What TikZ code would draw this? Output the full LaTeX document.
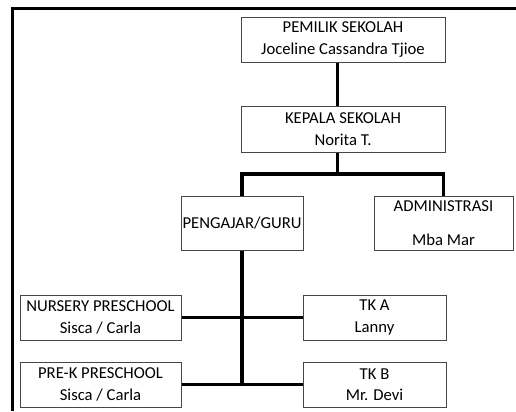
\documentclass[tikz,border=0pt]{standalone}
\usepackage{fontspec}
\setmainfont{Carlito}
\usetikzlibrary{positioning}
\definecolor{BoxGray}{RGB}{70,70,70}
\tikzset{
  orgbox/.style={draw=BoxGray,line width=0.75pt,fill=white,inner sep=0pt,
    align=center,font=\fontsize{12.5}{16}\selectfont},
  link/.style={line width=2.3pt,black},
  frameline/.style={line width=2.6pt,black}
}

\begin{document}
\begin{tikzpicture}[x=0.75pt,y=-0.75pt]
      \useasboundingbox (0,0) rectangle (516,411);
      % outer frame (left and top only)
      \draw[frameline] (12.5,411) -- (12.5,8.5) -- (516,8.5);
      % top of the chart
      \node[orgbox,minimum width=204*0.75pt,minimum height=45*0.75pt] (pemilik) at (343,39.5) {PEMILIK SEKOLAH\\Joceline Cassandra Tjioe};
      \node[orgbox,minimum width=204*0.75pt,minimum height=46*0.75pt] (kepala) at (343,129) {KEPALA SEKOLAH\\Norita T.};
      % second level
      \node[orgbox,minimum width=122*0.75pt,minimum height=54*0.75pt] (pengajar) at (242,223) {PENGAJAR/GURU};
      \node[orgbox,minimum width=139*0.75pt,minimum height=54*0.75pt] (admin) at (443.5,223) {ADMINISTRASI\\[9pt]Mba Mar};
      % classes
      \node[orgbox,minimum width=161*0.75pt,minimum height=45*0.75pt] (nursery) at (100.5,317.5) {NURSERY PRESCHOOL\\Sisca / Carla};
      \node[orgbox,minimum width=161*0.75pt,minimum height=45*0.75pt] (prek) at (100.5,384.5) {PRE-K PRESCHOOL\\Sisca / Carla};
      \node[orgbox,minimum width=143*0.75pt,minimum height=45*0.75pt] (tka) at (374.5,317.5) {TK A\\Lanny};
      \node[orgbox,minimum width=143*0.75pt,minimum height=45*0.75pt] (tkb) at (374.5,384.5) {TK B\\Mr. Devi};
      \coordinate (bus) at (337.5,174);
      \draw[link] (pemilik.south -| bus) -- (kepala.north -| bus);
      \draw[link] (kepala.south -| bus) -- (bus);
      \draw[link] (pengajar.north) |- (bus) -| (admin.north);
      \draw[link] (pengajar.south) -- (pengajar.south |- prek.east);
      \draw[link] (nursery.east) -- (tka.west);
      \draw[link] (prek.east) -- (tkb.west);
    \end{tikzpicture}
\end{document}
